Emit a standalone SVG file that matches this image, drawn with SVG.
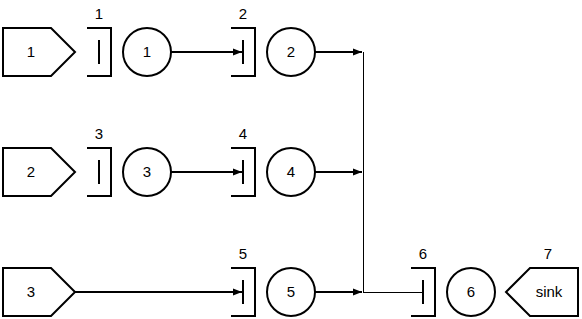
<svg xmlns="http://www.w3.org/2000/svg" width="582" height="319" viewBox="0 0 582 319">
<style>
.s{fill:#fff;stroke:#000;stroke-width:2}
.b{fill:none;stroke:#000;stroke-width:2}
.t{font-family:"Liberation Sans",Arial,sans-serif;font-size:15px;fill:#000;text-anchor:middle}
.c{fill:none;stroke:#000;stroke-width:2}
.c1{fill:none;stroke:#000;stroke-width:1}
</style>
<defs>
<marker id="ah" markerUnits="userSpaceOnUse" markerWidth="10" markerHeight="8" refX="9" refY="4" orient="auto">
<path d="M0,0.5 L9,4 L0,7.5 z" fill="#000"/>
</marker>
</defs>
<rect width="582" height="319" fill="#fff"/>
<g id="connectors">
<line class="c" x1="171" y1="52" x2="242" y2="52" marker-end="url(#ah)"/>
<line class="c" x1="171" y1="172" x2="242" y2="172" marker-end="url(#ah)"/>
<line class="c" x1="75" y1="292" x2="242" y2="292" marker-end="url(#ah)"/>
<line class="c" x1="315" y1="52" x2="362" y2="52" marker-end="url(#ah)"/>
<line class="c" x1="315" y1="172" x2="362" y2="172" marker-end="url(#ah)"/>
<line class="c" x1="315" y1="292" x2="362" y2="292" marker-end="url(#ah)"/>
<line class="c1" x1="363.5" y1="52" x2="363.5" y2="292"/>
<line class="c1" x1="363" y1="292.5" x2="423" y2="292.5"/>
</g>
<g id="src1"><path class="s" d="M3,28 H51 L75,52 L51,76 H3 Z"/><text class="t" x="31" y="57">1</text></g>
<g id="src2"><path class="s" d="M3,148 H51 L75,172 L51,196 H3 Z"/><text class="t" x="31" y="177">2</text></g>
<g id="src3"><path class="s" d="M3,268 H51 L75,292 L51,316 H3 Z"/><text class="t" x="31" y="297">3</text></g>
<g id="bar1"><path class="b" d="M87,28 H111 V76 H87 M99,40 V64"/><text class="t" x="99" y="19">1</text></g>
<g id="bar2"><path class="b" d="M231,28 H255 V76 H231 M243,40 V64"/><text class="t" x="243" y="19">2</text></g>
<g id="bar3"><path class="b" d="M87,148 H111 V196 H87 M99,160 V184"/><text class="t" x="99" y="139">3</text></g>
<g id="bar4"><path class="b" d="M231,148 H255 V196 H231 M243,160 V184"/><text class="t" x="243" y="139">4</text></g>
<g id="bar5"><path class="b" d="M231,268 H255 V316 H231 M243,280 V304"/><text class="t" x="243" y="259">5</text></g>
<g id="bar6"><path class="b" d="M411,268 H435 V316 H411 M423,280 V304"/><text class="t" x="423" y="259">6</text></g>
<g id="place1"><circle class="s" cx="147" cy="52" r="24"/><text class="t" x="147" y="57">1</text></g>
<g id="place2"><circle class="s" cx="291" cy="52" r="24"/><text class="t" x="291" y="57">2</text></g>
<g id="place3"><circle class="s" cx="147" cy="172" r="24"/><text class="t" x="147" y="177">3</text></g>
<g id="place4"><circle class="s" cx="291" cy="172" r="24"/><text class="t" x="291" y="177">4</text></g>
<g id="place5"><circle class="s" cx="291" cy="292" r="24"/><text class="t" x="291" y="297">5</text></g>
<g id="place6"><circle class="s" cx="471" cy="292" r="24"/><text class="t" x="471" y="297">6</text></g>
<g id="sink"><path class="s" d="M578,268 H530 L506,292 L530,316 H578 Z"/><text class="t" x="549" y="297">sink</text><text class="t" x="548" y="259">7</text></g>
</svg>
